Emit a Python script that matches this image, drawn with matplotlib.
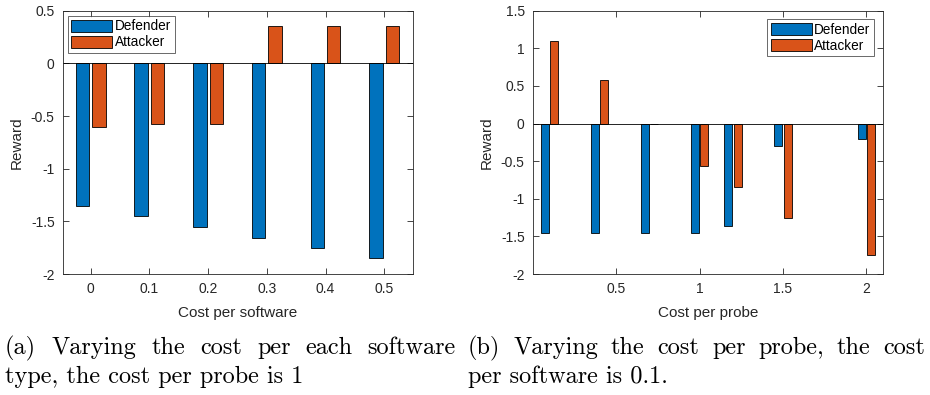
import numpy as np
import matplotlib.pyplot as plt

plt.rcParams['font.family'] = ['Liberation Sans', 'DejaVu Sans']
plt.rcParams['axes.unicode_minus'] = False

# (a) varying cost per software
sw_cost = [0, 0.1, 0.2, 0.3, 0.4, 0.5]
sw_defender = [-1.35, -1.45, -1.55, -1.66, -1.75, -1.85]
sw_attacker = [-0.60, -0.575, -0.575, 0.35, 0.35, 0.35]

# (b) varying cost per probe
pr_cost = [0.1, 0.4, 0.7, 1.0, 1.2, 1.5, 2.0]
pr_defender = [-1.45, -1.45, -1.45, -1.45, -1.36, -0.30, -0.20]
pr_attacker = [1.10, 0.58, -0.01, -0.57, -0.845, -1.25, -1.75]

cap_a = ["(a) Varying the cost per each software", "type, the cost per probe is 1"]
cap_b = ["(b) Varying the cost per probe, the cost", "per software is 0.1."]

blue = '#0072BD'
orange = '#D95319'

fig = plt.figure(figsize=(9.3, 3.95), dpi=100)
ax1 = fig.add_axes([63/930, 1-274/395, 350/930, 263.3/395])
ax2 = fig.add_axes([533/930, 1-274/395, 350/930, 263.3/395])


def draw(ax, x, d, a, w, off, xlim, ylim, xticks, xlabels, yticks, ylabels, xlabel, leg_loc, leg_anchor):
    x = np.array(x)
    ax.bar(x - off, d, w, color=blue, edgecolor='black', linewidth=0.6, label='Defender')
    ax.bar(x + off, a, w, color=orange, edgecolor='black', linewidth=0.6, label='Attacker')
    ax.axhline(0, color='black', linewidth=0.6)
    ax.set_xlim(xlim)
    ax.set_ylim(ylim)
    ax.set_xticks(xticks)
    ax.set_xticklabels(xlabels)
    ax.set_yticks(yticks)
    ax.set_yticklabels(ylabels)
    ax.tick_params(direction='in', top=True, right=True, labelsize=10, colors='#262626',
                   length=4, width=0.6, pad=6)
    for s in ax.spines.values():
        s.set_color('#262626')
        s.set_linewidth(0.6)
    ax.set_xlabel(xlabel, fontsize=11, color='#262626', labelpad=7)
    ax.set_ylabel('Reward', fontsize=11, color='#262626', labelpad=5)
    leg = ax.legend(loc=leg_loc, bbox_to_anchor=leg_anchor, fontsize=9.8, frameon=True, fancybox=False,
                    edgecolor='#262626', handlelength=3.0, handleheight=1.0, handletextpad=0.2,
                    labelspacing=0.15, borderpad=0.25, borderaxespad=0)
    leg.get_frame().set_linewidth(0.6)


draw(ax1, sw_cost, sw_defender, sw_attacker, 0.023, 0.014, (-0.047, 0.549), (-2, 0.5),
     sw_cost, ['0', '0.1', '0.2', '0.3', '0.4', '0.5'],
     [-2, -1.5, -1, -0.5, 0, 0.5], ['-2', '-1.5', '-1', '-0.5', '0', '0.5'],
     'Cost per software', 'upper left', (5/350, 1-5.3/263))

draw(ax2, pr_cost, pr_defender, pr_attacker, 0.047, 0.028, (0, 2.1), (-2, 1.5),
     [0.5, 1, 1.5, 2], ['0.5', '1', '1.5', '2'],
     [-2, -1.5, -1, -0.5, 0, 0.5, 1, 1.5], ['-2', '-1.5', '-1', '-0.5', '0', '0.5', '1', '1.5'],
     'Cost per probe', 'upper right', (1-9/350, 1-8.6/263))

# captions: first line justified like LaTeX, second line ragged
renderer = fig.canvas.get_renderer()
cap_size = 17.5
for x0, x1, cap in [(5, 456, cap_a), (468, 925, cap_b)]:
    words = cap[0].split()
    texts = [fig.text(0, 1-348/395, w, fontsize=cap_size, family='cmr10', va='center', ha='left')
             for w in words]
    widths = [t.get_window_extent(renderer).width for t in texts]
    gap = (x1 - x0 - sum(widths)) / (len(words) - 1)
    xp = x0
    for t, wd in zip(texts, widths):
        t.set_x(xp/930)
        xp += wd + gap
    fig.text(x0/930, 1-377/395, cap[1], fontsize=cap_size, family='cmr10', va='center', ha='left')

fig.savefig('out.png', dpi=100)
